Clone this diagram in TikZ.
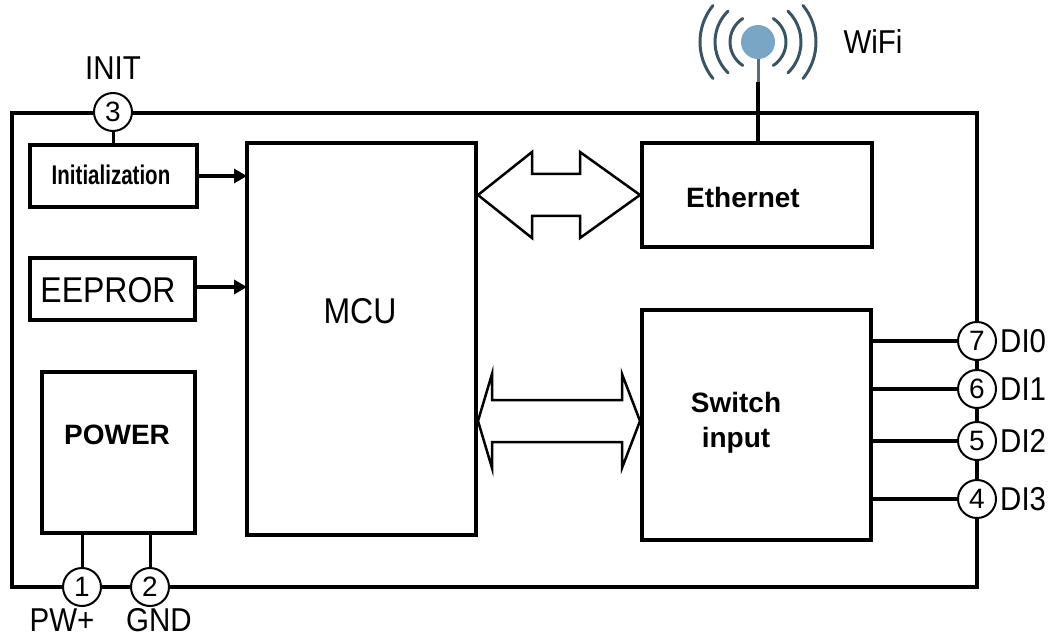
\documentclass[tikz,border=0pt]{standalone}
\usepackage{fontspec}
\setmainfont{Liberation Sans}
\usetikzlibrary{arrows.meta,calc}
\definecolor{antfill}{RGB}{120,166,196}
\definecolor{antarc}{RGB}{58,84,98}
\definecolor{antstem}{RGB}{90,110,120}
\newcommand\tallt[1]{\scalebox{1}[1.12]{#1}}
\begin{document}
\begin{tikzpicture}[x=1pt,y=-1pt,
  blk/.style={draw,line width=4pt,inner sep=0pt,outer sep=0pt},
  pinc/.style={circle,draw,line width=2pt,fill=white,minimum size=38pt,inner sep=0pt,font=\fontsize{28}{32}\selectfont},
  lbl/.style={font=\fontsize{29.5}{34}\selectfont,inner sep=0pt},
  blbl/.style={font=\bfseries\fontsize{28}{35}\selectfont,inner sep=0pt,align=center},
  wire/.style={line width=4pt},
  sig/.style={line width=4pt,-{Triangle[length=13pt,width=14pt]}},
  dbl/.style={draw,line width=2.5pt,line join=miter,fill=white},
  wave/.style={draw=antarc,line width=3pt,line cap=round}]
\useasboundingbox (0,0) rectangle (1055,639);

% outer housing
\node[blk,line width=4.5pt,minimum width=965pt,minimum height=474pt] (outer) at (494.5,350) {};

% blocks
\node[blk,minimum width=167pt,minimum height=62pt] (init) at (113.5,176) {};
\node[blk,minimum width=165pt,minimum height=62pt] (eeprom) at (112.5,289) {};
\node[blk,minimum width=153pt,minimum height=161pt] (power) at (118.5,452.5) {};
\node[blk,minimum width=229pt,minimum height=392pt] (mcu) at (361.5,339) {};
\node[blk,minimum width=230pt,minimum height=104pt] (eth) at (757,195) {};
\node[blk,minimum width=229pt,minimum height=230pt] (sw) at (756.5,425) {};

% block texts
\node[blbl] (initt) at (111,175) {\fontsize{27}{32}\selectfont\scalebox{0.76}[1]{Initialization}};
\node[lbl,font=\fontsize{32}{38}\selectfont] (eepromt) at (108,290) {\tallt{EEPROR}};
\node[blbl] (powert) at (117,435) {POWER};
\node[lbl,font=\fontsize{32}{38}\selectfont] (mcut) at (360,311) {\tallt{MCU}};
\node[blbl] (etht) at (743,197) {Ethernet};
\node[blbl,text depth=0pt] (swt) at (736,420) {Switch\\input};

% signal arrows into MCU
\draw[sig] (init.east) -- (init.east -| mcu.west);
\draw[sig] (eeprom.east |- 0,287) -- (mcu.west |- 0,287);

% double arrows (bus)
\draw[dbl] (478,195) -- (532,152) -- (532,174) -- (580,174) -- (580,152) -- (640,195)
  -- (580,238) -- (580,216) -- (532,216) -- (532,238) -- cycle;
\draw[dbl] (478,421) -- (492,374) -- (492,400) -- (622,400) -- (622,374) -- (640,421)
  -- (622,468) -- (622,442) -- (492,442) -- (492,468) -- cycle;

% antenna
\node[circle,fill=antfill,minimum size=34pt,inner sep=0pt] (ant) at (758,42) {};
\coordinate (stemjoin) at (758,82);
\draw[antstem,line width=3pt] (ant.south) -- (stemjoin);
\draw[wire] (stemjoin) -- (stemjoin |- eth.north);
\draw[wave] (ant.center) ++(123:28) arc[start angle=123,end angle=237,radius=28];
\draw[wave] (ant.center) ++(134:43) arc[start angle=134,end angle=226,radius=43];
\draw[wave] (ant.center) ++(141:58) arc[start angle=141,end angle=219,radius=58];
\draw[wave] (ant.center) ++(-57:28) arc[start angle=-57,end angle=57,radius=28];
\draw[wave] (ant.center) ++(-46:43) arc[start angle=-46,end angle=46,radius=43];
\draw[wave] (ant.center) ++(-39:58) arc[start angle=-39,end angle=39,radius=58];
\node[lbl] (wifi) at (873,42) {\tallt{WiFi}};

% pins
\node[pinc] (p3) at (113,112) {3};
\node[pinc] (p1) at (82,587) {1};
\node[pinc] (p2) at (150,587) {2};
\node[pinc] (p7) at (977,341) {7};
\node[pinc] (p6) at (977,389) {6};
\node[pinc] (p5) at (977,441) {5};
\node[pinc] (p4) at (977,499) {4};

\draw[wire,line width=3pt] (p3.south) -- (p3.south |- init.north);
\draw[wire,line width=3pt] (p1.north) -- (p1.north |- power.south);
\draw[wire,line width=3pt] (p2.north) -- (p2.north |- power.south);
\draw[wire] (p7.west) -- (p7.west -| sw.east);
\draw[wire] (p6.west) -- (p6.west -| sw.east);
\draw[wire] (p5.west) -- (p5.west -| sw.east);
\draw[wire] (p4.west) -- (p4.west -| sw.east);

% pin labels
\node[lbl] (initl) at (113,68) {\tallt{INIT}};
\node[lbl] (pwl) at (62,620) {\tallt{PW+}};
\node[lbl] (gndl) at (159,620) {\tallt{GND}};
\node[lbl,anchor=west] (di0) at (1000,341) {\tallt{DI0}};
\node[lbl,anchor=west] (di1) at (1000,389) {\tallt{DI1}};
\node[lbl,anchor=west] (di2) at (1000,441) {\tallt{DI2}};
\node[lbl,anchor=west] (di3) at (1000,499) {\tallt{DI3}};
\end{tikzpicture}
\end{document}
